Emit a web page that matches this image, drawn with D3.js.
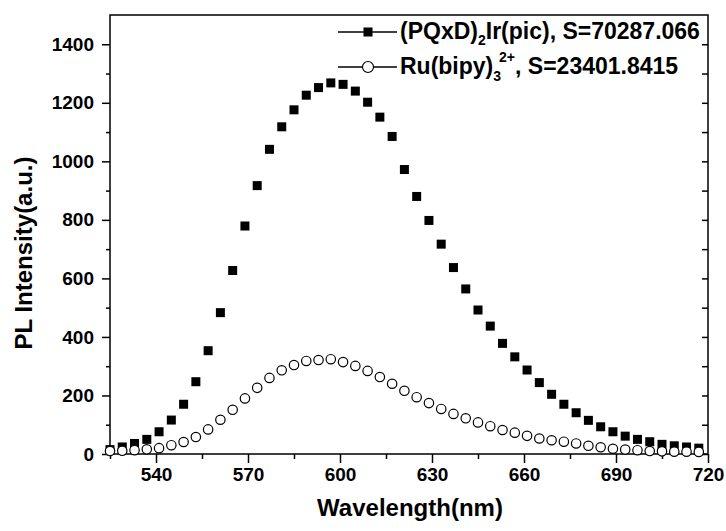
<!DOCTYPE html>
<html>
<head>
	<script src="https://d3js.org/d3.v7.min.js"></script>
	<style>
		body { margin: 0; background: #fff; }
		.tick_labels { font-family: "Liberation Sans", Arial, sans-serif; font-weight: bold; font-size: 19px; fill: #000; }
		.axes_titles { font-family: "Liberation Sans", Arial, sans-serif; font-weight: bold; font-size: 24px; fill: #000; }
		.legend { font-family: "Liberation Sans", Arial, sans-serif; font-weight: bold; font-size: 23px; fill: #000; }
	</style>
</head>
<body>
	<script>
		// PL spectra of the two emitters, one point every 4 nm

		var wavelength = [525, 529, 533, 537, 541, 545, 549, 553, 557, 561, 565, 569, 573, 577, 581, 585, 589,
			593, 597, 601, 605, 609, 613, 617, 621, 625, 629, 633, 637, 641, 645, 649, 653, 657, 661, 665, 669,
			673, 677, 681, 685, 689, 693, 697, 701, 705, 709, 713, 717];

		var irValues = [15, 24, 36, 50, 76, 116, 170, 247, 353, 483, 627, 779, 917, 1041, 1118, 1176, 1226,
			1252, 1268, 1263, 1240, 1202, 1151, 1085, 972, 880, 798, 717, 637, 564, 492, 437, 378, 332, 287, 244, 204,
			170, 141, 115, 93, 76, 61, 50, 42, 33, 28, 24, 20];

		var ruValues = [10, 11, 13, 16, 20, 30, 41, 58, 84, 117, 151, 190, 226, 260, 286, 304, 318,
			321, 324, 314, 301, 284, 263, 240, 216, 194, 174, 154, 137, 122, 108, 95, 82, 73, 62, 53, 47,
			42, 36, 28, 23, 18, 15, 13, 10, 9, 8, 8, 7];

		var xTicks = [540, 570, 600, 630, 660, 690, 720];
		var xMinor = [525, 555, 585, 615, 645, 675, 705];
		var yTicks = [0, 200, 400, 600, 800, 1000, 1200, 1400];
		var yMinor = [100, 300, 500, 700, 900, 1100, 1300];

		var width = 726;
		var height = 531;
		var plot = { left: 110, right: 708, top: 15, bottom: 454 };

		var xScale = d3.scaleLinear().domain([525, 720]).range([plot.left, plot.right]);
		var yScale = d3.scaleLinear().domain([0, 1500]).range([plot.bottom, plot.top]);

		var svg = d3.select("body").append("svg")
			.attr("width", width)
			.attr("height", height);

		// frame
		svg.append("rect")
			.attr("x", plot.left).attr("y", plot.top)
			.attr("width", plot.right - plot.left).attr("height", plot.bottom - plot.top)
			.attr("fill", "none").attr("stroke", "#000").attr("stroke-width", 1.5);

		// bottom axis: major + minor ticks outward
		var xAxis = d3.axisBottom(xScale).tickValues(xTicks).tickSize(9).tickPadding(5).tickFormat(d3.format("d"));
		var gx = svg.append("g")
			.attr("transform", "translate(" + [0, plot.bottom] + ")")
			.call(xAxis);
		gx.select(".domain").remove();
		gx.selectAll("line").attr("stroke-width", 1.5);
		gx.selectAll("text").attr("class", "tick_labels").attr("font-size", null).attr("font-family", null);
		var gxMinor = svg.append("g")
			.attr("transform", "translate(" + [0, plot.bottom] + ")")
			.call(d3.axisBottom(xScale).tickValues(xMinor).tickSize(5).tickFormat(""));
		gxMinor.select(".domain").remove();
		gxMinor.selectAll("line").attr("stroke-width", 1.5);

		// left axis
		var yAxis = d3.axisLeft(yScale).tickValues(yTicks).tickSize(8).tickPadding(8).tickFormat(d3.format("d"));
		var gy = svg.append("g")
			.attr("transform", "translate(" + [plot.left, 0] + ")")
			.call(yAxis);
		gy.select(".domain").remove();
		gy.selectAll("line").attr("stroke-width", 1.5);
		gy.selectAll("text").attr("class", "tick_labels").attr("font-size", null).attr("font-family", null);
		var gyMinor = svg.append("g")
			.attr("transform", "translate(" + [plot.left, 0] + ")")
			.call(d3.axisLeft(yScale).tickValues(yMinor).tickSize(4).tickFormat(""));
		gyMinor.select(".domain").remove();
		gyMinor.selectAll("line").attr("stroke-width", 1.5);

		// right axis, ticks inward
		var gr = svg.append("g")
			.attr("transform", "translate(" + [plot.right, 0] + ")")
			.call(d3.axisLeft(yScale).tickValues(d3.merge([yTicks, yMinor])).tickSize(6).tickFormat(""));
		gr.select(".domain").remove();
		gr.selectAll("line").attr("stroke-width", 1.5);

		// squares
		var sq = 9;
		svg.append("g").selectAll("rect")
			.data(wavelength)
			.enter()
			.append("rect")
			.attr("x", function(d) { return xScale(d) - sq / 2; })
			.attr("y", function(d, i) { return yScale(irValues[i]) - sq / 2; })
			.attr("width", sq).attr("height", sq)
			.attr("fill", "#000");

		// open circles
		svg.append("g").selectAll("circle")
			.data(wavelength)
			.enter()
			.append("circle")
			.attr("cx", function(d) { return xScale(d); })
			.attr("cy", function(d, i) { return yScale(ruValues[i]); })
			.attr("r", 4.7)
			.attr("fill", "#fff")
			.attr("stroke", "#000")
			.attr("stroke-width", 1.2);

		// legend
		var lg = svg.append("g");
		lg.append("line").attr("x1", 338).attr("x2", 397).attr("y1", 32).attr("y2", 32).attr("stroke", "#000").attr("stroke-width", 1.5);
		lg.append("rect").attr("x", 368 - sq / 2).attr("y", 32 - sq / 2).attr("width", sq).attr("height", sq).attr("fill", "#000");
		lg.append("line").attr("x1", 338).attr("x2", 397).attr("y1", 67).attr("y2", 67).attr("stroke", "#000").attr("stroke-width", 1.5);
		lg.append("circle").attr("cx", 368).attr("cy", 67).attr("r", 5.5).attr("fill", "#fff").attr("stroke", "#000").attr("stroke-width", 1.2);

		var t1 = lg.append("text").attr("class", "legend").attr("x", 400).attr("y", 39);
		t1.append("tspan").text("(PQxD)");
		t1.append("tspan").attr("dy", 6).attr("font-size", "14px").text("2");
		t1.append("tspan").attr("dy", -6).text("Ir(pic), S=70287.066");

		var t2 = lg.append("text").attr("class", "legend").attr("x", 400).attr("y", 74);
		t2.append("tspan").text("Ru(bipy)");
		t2.append("tspan").attr("dy", 7).attr("font-size", "14px").text("3");
		t2.append("tspan").attr("dy", -19).attr("dx", -2).attr("font-size", "14px").text("2+");
		t2.append("tspan").attr("dy", 12).text(", S=23401.8415");

		// axis titles
		svg.append("text")
			.attr("class", "axes_titles")
			.attr("text-anchor", "middle")
			.attr("transform", "translate(" + [410, 516] + ")")
			.text("Wavelength(nm)");
		svg.append("text")
			.attr("class", "axes_titles")
			.attr("text-anchor", "middle")
			.attr("transform", "translate(" + [32, 253] + ") rotate(-90)")
			.text("PL Intensity(a.u.)");
	</script>
</body>
</html>
